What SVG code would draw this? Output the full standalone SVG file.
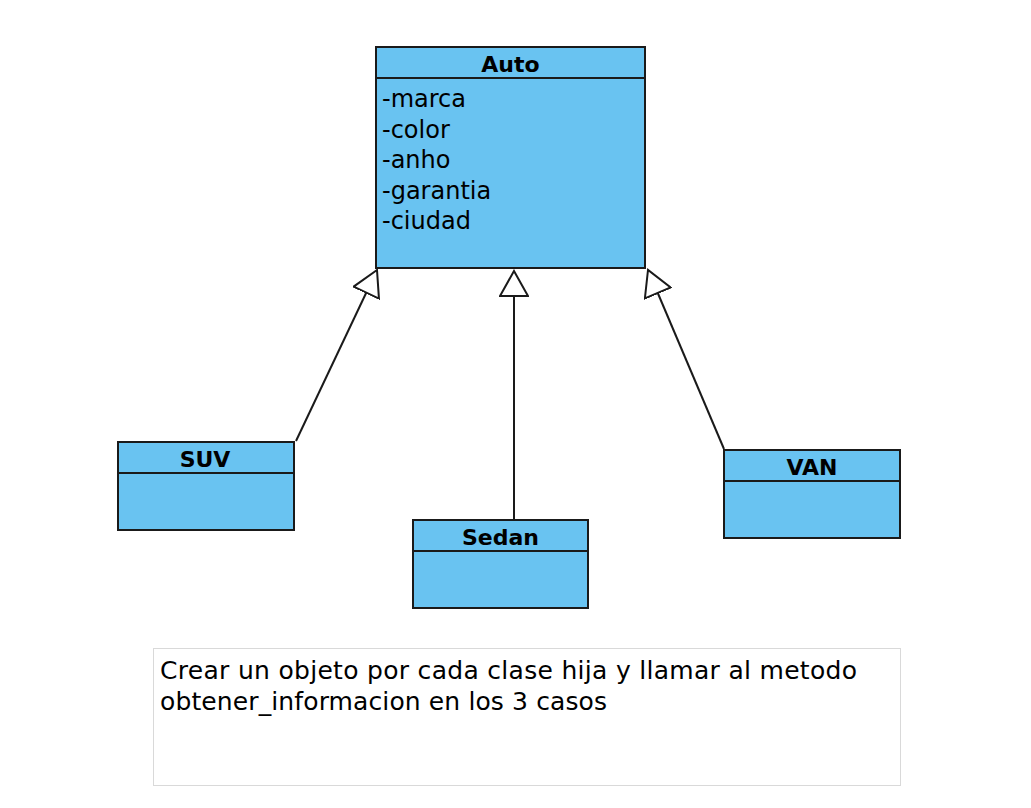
<svg xmlns="http://www.w3.org/2000/svg" width="1031" height="808" viewBox="0 0 1031 808">
  <style>
    .box { fill: #69C3F1; stroke: #1a1a1a; stroke-width: 2; }
    .div { stroke: #1a1a1a; stroke-width: 2; }
    .title { font-family: "DejaVu Sans", "Liberation Sans", sans-serif; font-weight: bold; font-size: 22px; fill: #000; text-anchor: middle; }
    .attr { font-family: "DejaVu Sans", "Liberation Sans", sans-serif; font-size: 24px; fill: #000; }
    .note { fill: #fff; stroke: #d9d9d9; stroke-width: 1; }
    .notetext { font-family: "DejaVu Sans", "Liberation Sans", sans-serif; font-size: 25px; fill: #000; }
    .conn { stroke: #1a1a1a; stroke-width: 2; fill: none; marker-end: url(#gen); }
  </style>
  <defs>
    <marker id="gen" viewBox="-1 -15 28 30" refX="25" refY="0" markerWidth="28" markerHeight="30" markerUnits="userSpaceOnUse" orient="auto">
      <path d="M25,0 L0,-14 L0,14 Z" fill="#fff" stroke="#1a1a1a" stroke-width="2" stroke-linejoin="miter"/>
    </marker>
  </defs>
  <rect width="1031" height="808" fill="#fff"/>

  <g id="connectors">
    <line class="conn" x1="296" y1="441" x2="377" y2="270"/>
    <line class="conn" x1="514" y1="519" x2="514" y2="271"/>
    <line class="conn" x1="724" y1="449" x2="648" y2="270"/>
  </g>

  <g id="auto">
    <rect class="box" x="376" y="47" width="269" height="221"/>
    <line class="div" x1="376" y1="78" x2="645" y2="78"/>
    <text class="title" x="510.5" y="72">Auto</text>
    <text class="attr" x="382" y="107">-marca</text>
    <text class="attr" x="382" y="137.5">-color</text>
    <text class="attr" x="382" y="168">-anho</text>
    <text class="attr" x="382" y="198.5">-garantia</text>
    <text class="attr" x="382" y="229">-ciudad</text>
  </g>

  <g id="suv">
    <rect class="box" x="118" y="442" width="176" height="88"/>
    <line class="div" x1="118" y1="473" x2="294" y2="473"/>
    <text class="title" x="205" y="467">SUV</text>
  </g>

  <g id="sedan">
    <rect class="box" x="413" y="520" width="175" height="88"/>
    <line class="div" x1="413" y1="551" x2="588" y2="551"/>
    <text class="title" x="500.5" y="545">Sedan</text>
  </g>

  <g id="van">
    <rect class="box" x="724" y="450" width="176" height="88"/>
    <line class="div" x1="724" y1="481" x2="900" y2="481"/>
    <text class="title" x="812" y="475">VAN</text>
  </g>

  <g id="note">
    <rect class="note" x="153.5" y="648.5" width="747" height="137"/>
    <text class="notetext" x="160" y="679" textLength="697" lengthAdjust="spacing">Crear un objeto por cada clase hija y llamar al metodo</text>
    <text class="notetext" x="160" y="710" textLength="447" lengthAdjust="spacing">obtener_informacion en los 3 casos</text>
  </g>
</svg>
